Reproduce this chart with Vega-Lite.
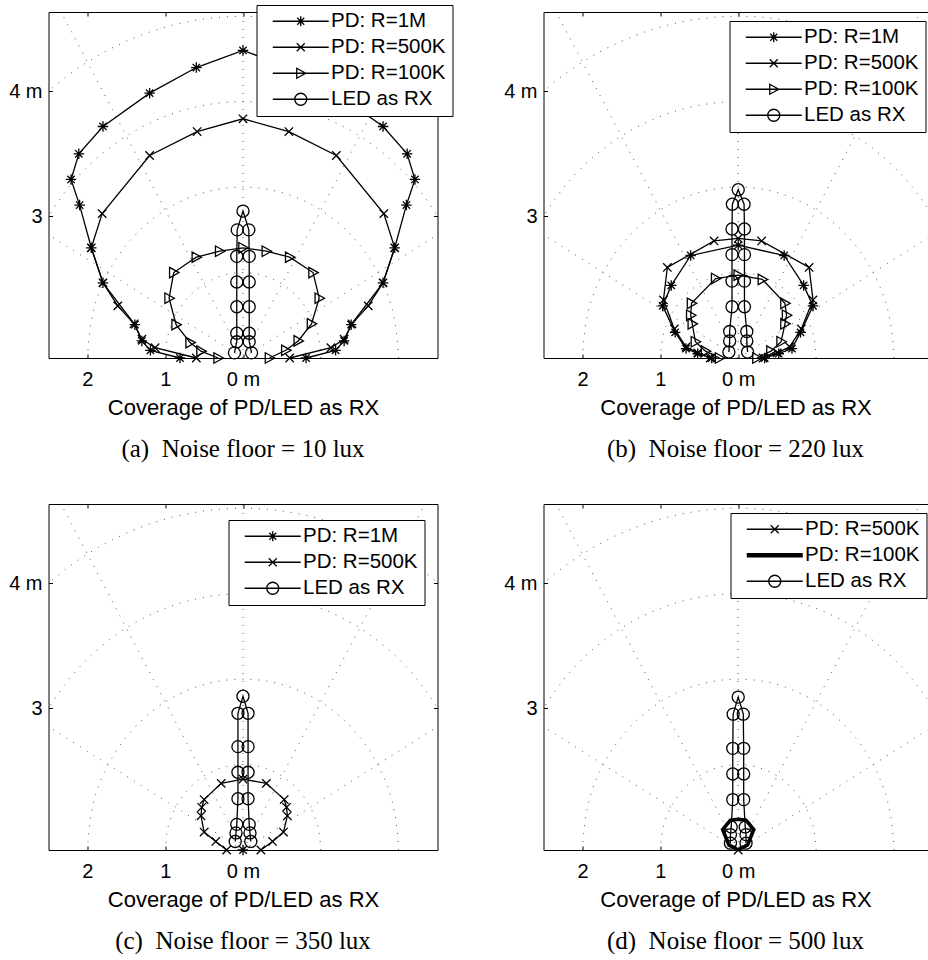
{
  "$schema": "https://vega.github.io/schema/vega-lite/v6.json",
  "padding": {"left": 8.5, "top": 4, "right": 0, "bottom": 0},
  "background": "white",
  "bounds": "flush",
  "columns": 2,
  "spacing": {"row": 146, "column": 106},
  "config": {
    "view": {"stroke": null},
    "axis": {"domainColor": "black", "domainWidth": 1, "tickColor": "black", "tickWidth": 1, "tickSize": -4, "labelColor": "black", "titleColor": "black", "grid": false, "labelFont": "Liberation Sans", "titleFont": "Liberation Sans", "labelFontSize": 20, "titleFontSize": 22, "titleFontWeight": "normal", "labelFlush": false, "labelOverlap": false},
    "legend": {"labelFont": "Liberation Sans", "labelFontSize": 20.5, "labelColor": "black", "padding": 6, "rowPadding": 5, "strokeColor": "black", "fillColor": "white", "symbolSize": 100, "symbolStrokeWidth": 1.3, "symbolStrokeColor": "black", "symbolFillColor": "transparent", "symbolOffset": 28, "labelOffset": 20, "labelLimit": 400, "cornerRadius": 0, "symbolOpacity": 1},
    "title": {"font": "Liberation Serif", "fontSize": 25, "fontWeight": "normal", "color": "black", "orient": "bottom", "anchor": "middle", "offset": 19}
  },
  "datasets": {
    "grid": [
      {"k":"c","g":1,"o":0,"x":1,"y":0},{"k":"c","g":1,"o":1,"x":0.9659,"y":0.2588},{"k":"c","g":1,"o":2,"x":0.866,"y":0.5},{"k":"c","g":1,"o":3,"x":0.7071,"y":0.7071},{"k":"c","g":1,"o":4,"x":0.5,"y":0.866},{"k":"c","g":1,"o":5,"x":0.2588,"y":0.9659},{"k":"c","g":1,"o":6,"x":0,"y":1},{"k":"c","g":1,"o":7,"x":-0.2588,"y":0.9659},{"k":"c","g":1,"o":8,"x":-0.5,"y":0.866},{"k":"c","g":1,"o":9,"x":-0.7071,"y":0.7071},{"k":"c","g":1,"o":10,"x":-0.866,"y":0.5},{"k":"c","g":1,"o":11,"x":-0.9659,"y":0.2588},{"k":"c","g":1,"o":12,"x":-1,"y":0},
      {"k":"c","g":2,"o":0,"x":2,"y":0},{"k":"c","g":2,"o":1,"x":1.9319,"y":0.5176},{"k":"c","g":2,"o":2,"x":1.7321,"y":1},{"k":"c","g":2,"o":3,"x":1.4142,"y":1.4142},{"k":"c","g":2,"o":4,"x":1,"y":1.7321},{"k":"c","g":2,"o":5,"x":0.5176,"y":1.9319},{"k":"c","g":2,"o":6,"x":0,"y":2},{"k":"c","g":2,"o":7,"x":-0.5176,"y":1.9319},{"k":"c","g":2,"o":8,"x":-1,"y":1.7321},{"k":"c","g":2,"o":9,"x":-1.4142,"y":1.4142},{"k":"c","g":2,"o":10,"x":-1.7321,"y":1},{"k":"c","g":2,"o":11,"x":-1.9319,"y":0.5176},{"k":"c","g":2,"o":12,"x":-2,"y":0},
      {"k":"c","g":3,"o":0,"x":3,"y":0},{"k":"c","g":3,"o":1,"x":2.8978,"y":0.7765},{"k":"c","g":3,"o":2,"x":2.5981,"y":1.5},{"k":"c","g":3,"o":3,"x":2.1213,"y":2.1213},{"k":"c","g":3,"o":4,"x":1.5,"y":2.5981},{"k":"c","g":3,"o":5,"x":0.7765,"y":2.8978},{"k":"c","g":3,"o":6,"x":0,"y":3},{"k":"c","g":3,"o":7,"x":-0.7765,"y":2.8978},{"k":"c","g":3,"o":8,"x":-1.5,"y":2.5981},{"k":"c","g":3,"o":9,"x":-2.1213,"y":2.1213},{"k":"c","g":3,"o":10,"x":-2.5981,"y":1.5},{"k":"c","g":3,"o":11,"x":-2.8978,"y":0.7765},{"k":"c","g":3,"o":12,"x":-3,"y":0},
      {"k":"c","g":4,"o":0,"x":4,"y":0},{"k":"c","g":4,"o":1,"x":3.8637,"y":1.0353},{"k":"c","g":4,"o":2,"x":3.4641,"y":2},{"k":"c","g":4,"o":3,"x":2.8284,"y":2.8284},{"k":"c","g":4,"o":4,"x":2,"y":3.4641},{"k":"c","g":4,"o":5,"x":1.0353,"y":3.8637},{"k":"c","g":4,"o":6,"x":0,"y":4},{"k":"c","g":4,"o":7,"x":-1.0353,"y":3.8637},{"k":"c","g":4,"o":8,"x":-2,"y":3.4641},{"k":"c","g":4,"o":9,"x":-2.8284,"y":2.8284},{"k":"c","g":4,"o":10,"x":-3.4641,"y":2},{"k":"c","g":4,"o":11,"x":-3.8637,"y":1.0353},{"k":"c","g":4,"o":12,"x":-4,"y":0},
      {"k":"s","g":30,"o":0,"x":0,"y":0},{"k":"s","g":30,"o":1,"x":4.3301,"y":2.5},
      {"k":"s","g":60,"o":0,"x":0,"y":0},{"k":"s","g":60,"o":1,"x":2.5,"y":4.3301},
      {"k":"s","g":90,"o":0,"x":0,"y":0},{"k":"s","g":90,"o":1,"x":0,"y":5},
      {"k":"s","g":120,"o":0,"x":0,"y":0},{"k":"s","g":120,"o":1,"x":-2.5,"y":4.3301},
      {"k":"s","g":150,"o":0,"x":0,"y":0},{"k":"s","g":150,"o":1,"x":-4.3301,"y":2.5}
    ],
    "curves": [
      {"p":"a","s":"PD: R=1M","o":1,"x":-0.81,"y":0},{"p":"a","s":"PD: R=1M","o":2,"x":-1.19,"y":0.09},{"p":"a","s":"PD: R=1M","o":3,"x":-1.30,"y":0.20},{"p":"a","s":"PD: R=1M","o":4,"x":-1.39,"y":0.39},{"p":"a","s":"PD: R=1M","o":5,"x":-1.80,"y":0.88},{"p":"a","s":"PD: R=1M","o":6,"x":-1.95,"y":1.29},{"p":"a","s":"PD: R=1M","o":7,"x":-2.10,"y":1.79},{"p":"a","s":"PD: R=1M","o":8,"x":-2.21,"y":2.09},{"p":"a","s":"PD: R=1M","o":9,"x":-2.11,"y":2.39},{"p":"a","s":"PD: R=1M","o":10,"x":-1.80,"y":2.71},{"p":"a","s":"PD: R=1M","o":11,"x":-1.20,"y":3.10},{"p":"a","s":"PD: R=1M","o":12,"x":-0.60,"y":3.40},{"p":"a","s":"PD: R=1M","o":13,"x":0,"y":3.60},{"p":"a","s":"PD: R=1M","o":14,"x":0.60,"y":3.40},{"p":"a","s":"PD: R=1M","o":15,"x":1.20,"y":3.10},{"p":"a","s":"PD: R=1M","o":16,"x":1.80,"y":2.71},{"p":"a","s":"PD: R=1M","o":17,"x":2.11,"y":2.39},{"p":"a","s":"PD: R=1M","o":18,"x":2.21,"y":2.09},{"p":"a","s":"PD: R=1M","o":19,"x":2.10,"y":1.79},{"p":"a","s":"PD: R=1M","o":20,"x":1.95,"y":1.29},{"p":"a","s":"PD: R=1M","o":21,"x":1.80,"y":0.88},{"p":"a","s":"PD: R=1M","o":22,"x":1.39,"y":0.39},{"p":"a","s":"PD: R=1M","o":23,"x":1.30,"y":0.20},{"p":"a","s":"PD: R=1M","o":24,"x":1.19,"y":0.09},{"p":"a","s":"PD: R=1M","o":25,"x":0.81,"y":0},
      {"p":"a","s":"PD: R=500K","o":1,"x":-0.60,"y":0},{"p":"a","s":"PD: R=500K","o":2,"x":-1.13,"y":0.12},{"p":"a","s":"PD: R=500K","o":3,"x":-1.30,"y":0.22},{"p":"a","s":"PD: R=500K","o":4,"x":-1.40,"y":0.40},{"p":"a","s":"PD: R=500K","o":5,"x":-1.61,"y":0.61},{"p":"a","s":"PD: R=500K","o":6,"x":-1.80,"y":0.88},{"p":"a","s":"PD: R=500K","o":7,"x":-1.95,"y":1.29},{"p":"a","s":"PD: R=500K","o":8,"x":-1.81,"y":1.69},{"p":"a","s":"PD: R=500K","o":9,"x":-1.20,"y":2.37},{"p":"a","s":"PD: R=500K","o":10,"x":-0.59,"y":2.65},{"p":"a","s":"PD: R=500K","o":11,"x":0,"y":2.80},{"p":"a","s":"PD: R=500K","o":12,"x":0.59,"y":2.65},{"p":"a","s":"PD: R=500K","o":13,"x":1.20,"y":2.37},{"p":"a","s":"PD: R=500K","o":14,"x":1.81,"y":1.69},{"p":"a","s":"PD: R=500K","o":15,"x":1.95,"y":1.29},{"p":"a","s":"PD: R=500K","o":16,"x":1.80,"y":0.88},{"p":"a","s":"PD: R=500K","o":17,"x":1.61,"y":0.61},{"p":"a","s":"PD: R=500K","o":18,"x":1.40,"y":0.40},{"p":"a","s":"PD: R=500K","o":19,"x":1.30,"y":0.22},{"p":"a","s":"PD: R=500K","o":20,"x":1.13,"y":0.12},{"p":"a","s":"PD: R=500K","o":21,"x":0.60,"y":0},
      {"p":"a","s":"PD: R=100K","o":1,"x":-0.32,"y":0},{"p":"a","s":"PD: R=100K","o":2,"x":-0.54,"y":0.08},{"p":"a","s":"PD: R=100K","o":3,"x":-0.68,"y":0.18},{"p":"a","s":"PD: R=100K","o":4,"x":-0.86,"y":0.39},{"p":"a","s":"PD: R=100K","o":5,"x":-0.95,"y":0.70},{"p":"a","s":"PD: R=100K","o":6,"x":-0.89,"y":1.00},{"p":"a","s":"PD: R=100K","o":7,"x":-0.60,"y":1.18},{"p":"a","s":"PD: R=100K","o":8,"x":-0.30,"y":1.25},{"p":"a","s":"PD: R=100K","o":9,"x":0,"y":1.29},{"p":"a","s":"PD: R=100K","o":10,"x":0.30,"y":1.25},{"p":"a","s":"PD: R=100K","o":11,"x":0.60,"y":1.18},{"p":"a","s":"PD: R=100K","o":12,"x":0.90,"y":1.00},{"p":"a","s":"PD: R=100K","o":13,"x":0.98,"y":0.70},{"p":"a","s":"PD: R=100K","o":14,"x":0.88,"y":0.40},{"p":"a","s":"PD: R=100K","o":15,"x":0.71,"y":0.20},{"p":"a","s":"PD: R=100K","o":16,"x":0.55,"y":0.09},{"p":"a","s":"PD: R=100K","o":17,"x":0.34,"y":0},
      {"p":"a","s":"LED as RX","o":1,"x":-0.11,"y":0.06},{"p":"a","s":"LED as RX","o":2,"x":-0.08,"y":0.19},{"p":"a","s":"LED as RX","o":3,"x":-0.08,"y":0.29},{"p":"a","s":"LED as RX","o":4,"x":-0.08,"y":0.60},{"p":"a","s":"LED as RX","o":5,"x":-0.08,"y":0.89},{"p":"a","s":"LED as RX","o":6,"x":-0.08,"y":1.19},{"p":"a","s":"LED as RX","o":7,"x":-0.075,"y":1.50},{"p":"a","s":"LED as RX","o":8,"x":0,"y":1.72},{"p":"a","s":"LED as RX","o":9,"x":0.075,"y":1.50},{"p":"a","s":"LED as RX","o":10,"x":0.08,"y":1.19},{"p":"a","s":"LED as RX","o":11,"x":0.08,"y":0.89},{"p":"a","s":"LED as RX","o":12,"x":0.08,"y":0.60},{"p":"a","s":"LED as RX","o":13,"x":0.08,"y":0.29},{"p":"a","s":"LED as RX","o":14,"x":0.08,"y":0.19},{"p":"a","s":"LED as RX","o":15,"x":0.11,"y":0.06},

      {"p":"b","s":"PD: R=1M","o":1,"x":-0.34,"y":0},{"p":"b","s":"PD: R=1M","o":2,"x":-0.52,"y":0.05},{"p":"b","s":"PD: R=1M","o":3,"x":-0.67,"y":0.11},{"p":"b","s":"PD: R=1M","o":4,"x":-0.81,"y":0.30},{"p":"b","s":"PD: R=1M","o":5,"x":-0.97,"y":0.61},{"p":"b","s":"PD: R=1M","o":6,"x":-0.86,"y":0.85},{"p":"b","s":"PD: R=1M","o":7,"x":-0.61,"y":1.20},{"p":"b","s":"PD: R=1M","o":8,"x":0,"y":1.32},{"p":"b","s":"PD: R=1M","o":9,"x":0.59,"y":1.20},{"p":"b","s":"PD: R=1M","o":10,"x":0.84,"y":0.85},{"p":"b","s":"PD: R=1M","o":11,"x":0.96,"y":0.61},{"p":"b","s":"PD: R=1M","o":12,"x":0.80,"y":0.30},{"p":"b","s":"PD: R=1M","o":13,"x":0.69,"y":0.11},{"p":"b","s":"PD: R=1M","o":14,"x":0.52,"y":0.05},{"p":"b","s":"PD: R=1M","o":15,"x":0.34,"y":0},
      {"p":"b","s":"PD: R=500K","o":1,"x":-0.36,"y":0},{"p":"b","s":"PD: R=500K","o":2,"x":-0.52,"y":0.06},{"p":"b","s":"PD: R=500K","o":3,"x":-0.67,"y":0.13},{"p":"b","s":"PD: R=500K","o":4,"x":-0.82,"y":0.34},{"p":"b","s":"PD: R=500K","o":5,"x":-0.96,"y":0.68},{"p":"b","s":"PD: R=500K","o":6,"x":-0.91,"y":1.06},{"p":"b","s":"PD: R=500K","o":7,"x":-0.31,"y":1.37},{"p":"b","s":"PD: R=500K","o":8,"x":0,"y":1.40},{"p":"b","s":"PD: R=500K","o":9,"x":0.30,"y":1.37},{"p":"b","s":"PD: R=500K","o":10,"x":0.91,"y":1.06},{"p":"b","s":"PD: R=500K","o":11,"x":0.96,"y":0.68},{"p":"b","s":"PD: R=500K","o":12,"x":0.81,"y":0.34},{"p":"b","s":"PD: R=500K","o":13,"x":0.66,"y":0.13},{"p":"b","s":"PD: R=500K","o":14,"x":0.50,"y":0.06},{"p":"b","s":"PD: R=500K","o":15,"x":0.32,"y":0},
      {"p":"b","s":"PD: R=100K","o":1,"x":-0.24,"y":0},{"p":"b","s":"PD: R=100K","o":2,"x":-0.42,"y":0.08},{"p":"b","s":"PD: R=100K","o":3,"x":-0.55,"y":0.19},{"p":"b","s":"PD: R=100K","o":4,"x":-0.59,"y":0.40},{"p":"b","s":"PD: R=100K","o":5,"x":-0.61,"y":0.50},{"p":"b","s":"PD: R=100K","o":6,"x":-0.60,"y":0.64},{"p":"b","s":"PD: R=100K","o":7,"x":-0.29,"y":0.93},{"p":"b","s":"PD: R=100K","o":8,"x":0,"y":0.97},{"p":"b","s":"PD: R=100K","o":9,"x":0.31,"y":0.92},{"p":"b","s":"PD: R=100K","o":10,"x":0.60,"y":0.64},{"p":"b","s":"PD: R=100K","o":11,"x":0.62,"y":0.50},{"p":"b","s":"PD: R=100K","o":12,"x":0.60,"y":0.40},{"p":"b","s":"PD: R=100K","o":13,"x":0.55,"y":0.19},{"p":"b","s":"PD: R=100K","o":14,"x":0.42,"y":0.08},{"p":"b","s":"PD: R=100K","o":15,"x":0.24,"y":0},
      {"p":"b","s":"LED as RX","o":1,"x":-0.12,"y":0.07},{"p":"b","s":"LED as RX","o":2,"x":-0.11,"y":0.20},{"p":"b","s":"LED as RX","o":3,"x":-0.11,"y":0.31},{"p":"b","s":"LED as RX","o":4,"x":-0.08,"y":0.60},{"p":"b","s":"LED as RX","o":5,"x":-0.08,"y":0.90},{"p":"b","s":"LED as RX","o":6,"x":-0.08,"y":1.21},{"p":"b","s":"LED as RX","o":7,"x":-0.08,"y":1.51},{"p":"b","s":"LED as RX","o":8,"x":-0.075,"y":1.80},{"p":"b","s":"LED as RX","o":9,"x":0,"y":1.97},{"p":"b","s":"LED as RX","o":10,"x":0.075,"y":1.80},{"p":"b","s":"LED as RX","o":11,"x":0.08,"y":1.51},{"p":"b","s":"LED as RX","o":12,"x":0.08,"y":1.21},{"p":"b","s":"LED as RX","o":13,"x":0.08,"y":0.90},{"p":"b","s":"LED as RX","o":14,"x":0.08,"y":0.60},{"p":"b","s":"LED as RX","o":15,"x":0.11,"y":0.31},{"p":"b","s":"LED as RX","o":16,"x":0.11,"y":0.20},{"p":"b","s":"LED as RX","o":17,"x":0.12,"y":0.07},

      {"p":"c","s":"PD: R=1M","o":1,"x":0,"y":0},
      {"p":"c","s":"PD: R=500K","o":1,"x":-0.21,"y":0},{"p":"c","s":"PD: R=500K","o":2,"x":-0.35,"y":0.10},{"p":"c","s":"PD: R=500K","o":3,"x":-0.50,"y":0.21},{"p":"c","s":"PD: R=500K","o":4,"x":-0.54,"y":0.40},{"p":"c","s":"PD: R=500K","o":5,"x":-0.53,"y":0.50},{"p":"c","s":"PD: R=500K","o":6,"x":-0.50,"y":0.59},{"p":"c","s":"PD: R=500K","o":7,"x":-0.28,"y":0.78},{"p":"c","s":"PD: R=500K","o":8,"x":0,"y":0.83},{"p":"c","s":"PD: R=500K","o":9,"x":0.30,"y":0.78},{"p":"c","s":"PD: R=500K","o":10,"x":0.53,"y":0.59},{"p":"c","s":"PD: R=500K","o":11,"x":0.56,"y":0.50},{"p":"c","s":"PD: R=500K","o":12,"x":0.57,"y":0.40},{"p":"c","s":"PD: R=500K","o":13,"x":0.52,"y":0.21},{"p":"c","s":"PD: R=500K","o":14,"x":0.38,"y":0.10},{"p":"c","s":"PD: R=500K","o":15,"x":0.23,"y":0},
      {"p":"c","s":"LED as RX","o":1,"x":-0.10,"y":0.10},{"p":"c","s":"LED as RX","o":2,"x":-0.09,"y":0.20},{"p":"c","s":"LED as RX","o":3,"x":-0.08,"y":0.30},{"p":"c","s":"LED as RX","o":4,"x":-0.065,"y":0.60},{"p":"c","s":"LED as RX","o":5,"x":-0.065,"y":0.91},{"p":"c","s":"LED as RX","o":6,"x":-0.065,"y":1.21},{"p":"c","s":"LED as RX","o":7,"x":-0.065,"y":1.60},{"p":"c","s":"LED as RX","o":8,"x":0,"y":1.80},{"p":"c","s":"LED as RX","o":9,"x":0.065,"y":1.60},{"p":"c","s":"LED as RX","o":10,"x":0.065,"y":1.21},{"p":"c","s":"LED as RX","o":11,"x":0.065,"y":0.91},{"p":"c","s":"LED as RX","o":12,"x":0.065,"y":0.60},{"p":"c","s":"LED as RX","o":13,"x":0.08,"y":0.30},{"p":"c","s":"LED as RX","o":14,"x":0.09,"y":0.20},{"p":"c","s":"LED as RX","o":15,"x":0.10,"y":0.10},

      {"p":"d","s":"PD: R=500K","o":1,"x":0,"y":0},
      {"p":"d","s":"PD: R=100K","o":1,"x":0,"y":0},{"p":"d","s":"PD: R=100K","o":2,"x":-0.12,"y":0.06},{"p":"d","s":"PD: R=100K","o":3,"x":-0.20,"y":0.24},{"p":"d","s":"PD: R=100K","o":4,"x":-0.10,"y":0.35},{"p":"d","s":"PD: R=100K","o":5,"x":0,"y":0.36},{"p":"d","s":"PD: R=100K","o":6,"x":0.10,"y":0.35},{"p":"d","s":"PD: R=100K","o":7,"x":0.20,"y":0.24},{"p":"d","s":"PD: R=100K","o":8,"x":0.12,"y":0.06},{"p":"d","s":"PD: R=100K","o":9,"x":0,"y":0},
      {"p":"d","s":"LED as RX","o":1,"x":-0.10,"y":0.08},{"p":"d","s":"LED as RX","o":2,"x":-0.10,"y":0.18},{"p":"d","s":"LED as RX","o":3,"x":-0.09,"y":0.27},{"p":"d","s":"LED as RX","o":4,"x":-0.07,"y":0.59},{"p":"d","s":"LED as RX","o":5,"x":-0.07,"y":0.89},{"p":"d","s":"LED as RX","o":6,"x":-0.07,"y":1.19},{"p":"d","s":"LED as RX","o":7,"x":-0.065,"y":1.59},{"p":"d","s":"LED as RX","o":8,"x":0,"y":1.79},{"p":"d","s":"LED as RX","o":9,"x":0.065,"y":1.59},{"p":"d","s":"LED as RX","o":10,"x":0.07,"y":1.19},{"p":"d","s":"LED as RX","o":11,"x":0.07,"y":0.89},{"p":"d","s":"LED as RX","o":12,"x":0.07,"y":0.59},{"p":"d","s":"LED as RX","o":13,"x":0.09,"y":0.27},{"p":"d","s":"LED as RX","o":14,"x":0.10,"y":0.18},{"p":"d","s":"LED as RX","o":15,"x":0.10,"y":0.08}
    ]
  },
  "concat": [
    {
      "width": 389, "height": 346,
      "title": {"text": "(a)\u00a0 Noise floor = 10 lux"},
      "layer": [
        {"data": {"name": "grid"}, "transform": [{"filter": "datum.k == 'c'"}],
         "mark": {"type": "line", "interpolate": "natural", "clip": true, "color": "#555", "strokeWidth": 1, "strokeDash": [1, 7]},
         "encoding": {
           "x": {"field": "x", "type": "quantitative", "scale": {"domain": [-2.5, 2.5], "nice": false, "zero": false}, "axis": {"orient": "bottom", "values": [-2, -1, 0], "labelExpr": "datum.value == 0 ? '0 m' : '' + abs(datum.value)", "labelPadding": 15, "title": "Coverage of PD/LED as RX", "titlePadding": 8}},
           "y": {"field": "y", "type": "quantitative", "scale": {"domain": [0, 4.05], "nice": false, "zero": false}, "axis": {"orient": "left", "values": [1.658, 3.122], "labelExpr": "datum.value > 3 ? '4 m' : '3'", "labelPadding": 10.5, "title": null}},
           "detail": {"field": "g", "type": "nominal"},
           "order": {"field": "o", "type": "quantitative"}}},
        {"data": {"name": "grid"}, "transform": [{"filter": "datum.k == 's'"}],
         "mark": {"type": "line", "clip": true, "color": "#555", "strokeWidth": 1, "strokeDash": [1, 7]},
         "encoding": {
           "x": {"field": "x", "type": "quantitative", "scale": {"domain": [-2.5, 2.5], "nice": false, "zero": false}, "axis": {"orient": "top", "values": [-2, -1, 0], "labels": false, "title": null}},
           "y": {"field": "y", "type": "quantitative", "scale": {"domain": [0, 4.05], "nice": false, "zero": false}, "axis": {"orient": "right", "values": [1.658, 3.122], "labels": false, "title": null}},
           "detail": {"field": "g", "type": "nominal"},
           "order": {"field": "o", "type": "quantitative"}}},
        {"data": {"name": "curves"}, "transform": [{"filter": "datum.p == 'a'"}],
         "mark": {"type": "line", "color": "black", "strokeWidth": 1.3},
         "encoding": {
           "x": {"field": "x", "type": "quantitative", "scale": {"domain": [-2.5, 2.5], "nice": false, "zero": false}, "axis": null},
           "y": {"field": "y", "type": "quantitative", "scale": {"domain": [0, 4.05], "nice": false, "zero": false}, "axis": null},
           "detail": {"field": "s", "type": "nominal"},
           "order": {"field": "o", "type": "quantitative"}}},
        {"data": {"name": "curves"}, "transform": [{"filter": "datum.p == 'a'"}],
         "mark": {"type": "point", "filled": false, "color": "black", "opacity": 1, "strokeWidth": 1.3, "size": 110},
         "encoding": {
           "x": {"field": "x", "type": "quantitative", "scale": {"domain": [-2.5, 2.5], "nice": false, "zero": false}, "axis": null},
           "y": {"field": "y", "type": "quantitative", "scale": {"domain": [0, 4.05], "nice": false, "zero": false}, "axis": null},
           "shape": {"field": "s", "type": "nominal", "scale": {"domain": ["PD: R=1M", "PD: R=500K", "PD: R=100K", "LED as RX"], "range": ["M-1,0H1M0,-1V1M-0.7,-0.7L0.7,0.7M-0.7,0.7L0.7,-0.7", "M-0.8,-0.8L0.8,0.8M-0.8,0.8L0.8,-0.8", "M-0.8,-1L1,0L-0.8,1Z", "M1.15,0A1.15,1.15,0,1,1,-1.15,0A1.15,1.15,0,1,1,1.15,0"]}, "legend": null}}},
        {"data": {"name": "curves"}, "transform": [{"filter": "false"}],
         "mark": {"type": "point", "filled": false, "color": "black", "opacity": 1, "strokeWidth": 1.3},
         "encoding": {
           "x": {"field": "x", "type": "quantitative", "scale": {"domain": [-2.5, 2.5], "nice": false, "zero": false}, "axis": null},
           "y": {"field": "y", "type": "quantitative", "scale": {"domain": [0, 4.05], "nice": false, "zero": false}, "axis": null},
           "shape": {"field": "s", "type": "nominal", "scale": {"domain": ["PD: R=1M", "PD: R=500K", "PD: R=100K", "LED as RX"], "range": ["M-5.6,0H5.6M-1,0H1M0,-1V1M-0.7,-0.7L0.7,0.7M-0.7,0.7L0.7,-0.7", "M-5.6,0H5.6M-0.8,-0.8L0.8,0.8M-0.8,0.8L0.8,-0.8", "M-5.6,0H5.6M-0.8,-1L1,0L-0.8,1Z", "M-5.6,0H5.6M1.2,0A1.2,1.2,0,1,1,-1.2,0A1.2,1.2,0,1,1,1.2,0"]}, "legend": {"orient": "none", "legendX": 208, "legendY": -7, "title": null, "zindex": 1}}}}
      ],
      "resolve": {"axis": {"x": "independent", "y": "independent"}, "scale": {"shape": "independent"}, "legend": {"shape": "independent"}}
    },
    {
      "width": 384, "height": 346,
      "title": {"text": "(b)\u00a0 Noise floor = 220 lux"},
      "layer": [
        {"data": {"name": "grid"}, "transform": [{"filter": "datum.k == 'c'"}],
         "mark": {"type": "line", "interpolate": "natural", "clip": true, "color": "#555", "strokeWidth": 1, "strokeDash": [1, 7]},
         "encoding": {
           "x": {"field": "x", "type": "quantitative", "scale": {"domain": [-2.5, 2.43], "nice": false, "zero": false}, "axis": {"orient": "bottom", "values": [-2, -1, 0], "labelExpr": "datum.value == 0 ? '0 m' : '' + abs(datum.value)", "labelPadding": 15, "title": "Coverage of PD/LED as RX", "titlePadding": 8}},
           "y": {"field": "y", "type": "quantitative", "scale": {"domain": [0, 4.05], "nice": false, "zero": false}, "axis": {"orient": "left", "values": [1.658, 3.122], "labelExpr": "datum.value > 3 ? '4 m' : '3'", "labelPadding": 10.5, "title": null}},
           "detail": {"field": "g", "type": "nominal"},
           "order": {"field": "o", "type": "quantitative"}}},
        {"data": {"name": "grid"}, "transform": [{"filter": "datum.k == 's'"}],
         "mark": {"type": "line", "clip": true, "color": "#555", "strokeWidth": 1, "strokeDash": [1, 7]},
         "encoding": {
           "x": {"field": "x", "type": "quantitative", "scale": {"domain": [-2.5, 2.43], "nice": false, "zero": false}, "axis": {"orient": "top", "values": [-2, -1, 0], "labels": false, "title": null}},
           "y": {"field": "y", "type": "quantitative", "scale": {"domain": [0, 4.05], "nice": false, "zero": false}, "axis": null},
           "detail": {"field": "g", "type": "nominal"},
           "order": {"field": "o", "type": "quantitative"}}},
        {"data": {"name": "curves"}, "transform": [{"filter": "datum.p == 'b'"}],
         "mark": {"type": "line", "color": "black", "strokeWidth": 1.3},
         "encoding": {
           "x": {"field": "x", "type": "quantitative", "scale": {"domain": [-2.5, 2.43], "nice": false, "zero": false}, "axis": null},
           "y": {"field": "y", "type": "quantitative", "scale": {"domain": [0, 4.05], "nice": false, "zero": false}, "axis": null},
           "detail": {"field": "s", "type": "nominal"},
           "order": {"field": "o", "type": "quantitative"}}},
        {"data": {"name": "curves"}, "transform": [{"filter": "datum.p == 'b'"}],
         "mark": {"type": "point", "filled": false, "color": "black", "opacity": 1, "strokeWidth": 1.3, "size": 110},
         "encoding": {
           "x": {"field": "x", "type": "quantitative", "scale": {"domain": [-2.5, 2.43], "nice": false, "zero": false}, "axis": null},
           "y": {"field": "y", "type": "quantitative", "scale": {"domain": [0, 4.05], "nice": false, "zero": false}, "axis": null},
           "shape": {"field": "s", "type": "nominal", "scale": {"domain": ["PD: R=1M", "PD: R=500K", "PD: R=100K", "LED as RX"], "range": ["M-1,0H1M0,-1V1M-0.7,-0.7L0.7,0.7M-0.7,0.7L0.7,-0.7", "M-0.8,-0.8L0.8,0.8M-0.8,0.8L0.8,-0.8", "M-0.8,-1L1,0L-0.8,1Z", "M1.15,0A1.15,1.15,0,1,1,-1.15,0A1.15,1.15,0,1,1,1.15,0"]}, "legend": null}}},
        {"data": {"name": "curves"}, "transform": [{"filter": "false"}],
         "mark": {"type": "point", "filled": false, "color": "black", "opacity": 1, "strokeWidth": 1.3},
         "encoding": {
           "x": {"field": "x", "type": "quantitative", "scale": {"domain": [-2.5, 2.43], "nice": false, "zero": false}, "axis": null},
           "y": {"field": "y", "type": "quantitative", "scale": {"domain": [0, 4.05], "nice": false, "zero": false}, "axis": null},
           "shape": {"field": "s", "type": "nominal", "scale": {"domain": ["PD: R=1M", "PD: R=500K", "PD: R=100K", "LED as RX"], "range": ["M-5.6,0H5.6M-1,0H1M0,-1V1M-0.7,-0.7L0.7,0.7M-0.7,0.7L0.7,-0.7", "M-5.6,0H5.6M-0.8,-0.8L0.8,0.8M-0.8,0.8L0.8,-0.8", "M-5.6,0H5.6M-0.8,-1L1,0L-0.8,1Z", "M-5.6,0H5.6M1.2,0A1.2,1.2,0,1,1,-1.2,0A1.2,1.2,0,1,1,1.2,0"]}, "legend": {"orient": "none", "legendX": 186, "legendY": 9, "title": null, "zindex": 1}}}}
      ],
      "resolve": {"axis": {"x": "independent", "y": "independent"}, "scale": {"shape": "independent"}, "legend": {"shape": "independent"}}
    },
    {
      "width": 389, "height": 346,
      "title": {"text": "(c)\u00a0 Noise floor = 350 lux"},
      "layer": [
        {"data": {"name": "grid"}, "transform": [{"filter": "datum.k == 'c'"}],
         "mark": {"type": "line", "interpolate": "natural", "clip": true, "color": "#555", "strokeWidth": 1, "strokeDash": [1, 7]},
         "encoding": {
           "x": {"field": "x", "type": "quantitative", "scale": {"domain": [-2.5, 2.5], "nice": false, "zero": false}, "axis": {"orient": "bottom", "values": [-2, -1, 0], "labelExpr": "datum.value == 0 ? '0 m' : '' + abs(datum.value)", "labelPadding": 15, "title": "Coverage of PD/LED as RX", "titlePadding": 8}},
           "y": {"field": "y", "type": "quantitative", "scale": {"domain": [0, 4.05], "nice": false, "zero": false}, "axis": {"orient": "left", "values": [1.658, 3.122], "labelExpr": "datum.value > 3 ? '4 m' : '3'", "labelPadding": 10.5, "title": null}},
           "detail": {"field": "g", "type": "nominal"},
           "order": {"field": "o", "type": "quantitative"}}},
        {"data": {"name": "grid"}, "transform": [{"filter": "datum.k == 's'"}],
         "mark": {"type": "line", "clip": true, "color": "#555", "strokeWidth": 1, "strokeDash": [1, 7]},
         "encoding": {
           "x": {"field": "x", "type": "quantitative", "scale": {"domain": [-2.5, 2.5], "nice": false, "zero": false}, "axis": {"orient": "top", "values": [-2, -1, 0], "labels": false, "title": null}},
           "y": {"field": "y", "type": "quantitative", "scale": {"domain": [0, 4.05], "nice": false, "zero": false}, "axis": {"orient": "right", "values": [1.658, 3.122], "labels": false, "title": null}},
           "detail": {"field": "g", "type": "nominal"},
           "order": {"field": "o", "type": "quantitative"}}},
        {"data": {"name": "curves"}, "transform": [{"filter": "datum.p == 'c'"}],
         "mark": {"type": "line", "color": "black", "strokeWidth": 1.3},
         "encoding": {
           "x": {"field": "x", "type": "quantitative", "scale": {"domain": [-2.5, 2.5], "nice": false, "zero": false}, "axis": null},
           "y": {"field": "y", "type": "quantitative", "scale": {"domain": [0, 4.05], "nice": false, "zero": false}, "axis": null},
           "detail": {"field": "s", "type": "nominal"},
           "order": {"field": "o", "type": "quantitative"}}},
        {"data": {"name": "curves"}, "transform": [{"filter": "datum.p == 'c'"}],
         "mark": {"type": "point", "filled": false, "color": "black", "opacity": 1, "strokeWidth": 1.3, "size": 110},
         "encoding": {
           "x": {"field": "x", "type": "quantitative", "scale": {"domain": [-2.5, 2.5], "nice": false, "zero": false}, "axis": null},
           "y": {"field": "y", "type": "quantitative", "scale": {"domain": [0, 4.05], "nice": false, "zero": false}, "axis": null},
           "shape": {"field": "s", "type": "nominal", "scale": {"domain": ["PD: R=1M", "PD: R=500K", "PD: R=100K", "LED as RX"], "range": ["M-1,0H1M0,-1V1M-0.7,-0.7L0.7,0.7M-0.7,0.7L0.7,-0.7", "M-0.8,-0.8L0.8,0.8M-0.8,0.8L0.8,-0.8", "M-0.8,-1L1,0L-0.8,1Z", "M1.15,0A1.15,1.15,0,1,1,-1.15,0A1.15,1.15,0,1,1,1.15,0"]}, "legend": null}}},
        {"data": {"name": "curves"}, "transform": [{"filter": "false"}],
         "mark": {"type": "point", "filled": false, "color": "black", "opacity": 1, "strokeWidth": 1.3},
         "encoding": {
           "x": {"field": "x", "type": "quantitative", "scale": {"domain": [-2.5, 2.5], "nice": false, "zero": false}, "axis": null},
           "y": {"field": "y", "type": "quantitative", "scale": {"domain": [0, 4.05], "nice": false, "zero": false}, "axis": null},
           "shape": {"field": "s", "type": "nominal", "scale": {"domain": ["PD: R=1M", "PD: R=500K", "LED as RX"], "range": ["M-5.6,0H5.6M-1,0H1M0,-1V1M-0.7,-0.7L0.7,0.7M-0.7,0.7L0.7,-0.7", "M-5.6,0H5.6M-0.8,-0.8L0.8,0.8M-0.8,0.8L0.8,-0.8", "M-5.6,0H5.6M1.2,0A1.2,1.2,0,1,1,-1.2,0A1.2,1.2,0,1,1,1.2,0"]}, "legend": {"orient": "none", "legendX": 180, "legendY": 16, "title": null, "zindex": 1}}}}
      ],
      "resolve": {"axis": {"x": "independent", "y": "independent"}, "scale": {"shape": "independent"}, "legend": {"shape": "independent"}}
    },
    {
      "width": 384, "height": 346,
      "title": {"text": "(d)\u00a0 Noise floor = 500 lux"},
      "layer": [
        {"data": {"name": "grid"}, "transform": [{"filter": "datum.k == 'c'"}],
         "mark": {"type": "line", "interpolate": "natural", "clip": true, "color": "#555", "strokeWidth": 1, "strokeDash": [1, 7]},
         "encoding": {
           "x": {"field": "x", "type": "quantitative", "scale": {"domain": [-2.5, 2.43], "nice": false, "zero": false}, "axis": {"orient": "bottom", "values": [-2, -1, 0], "labelExpr": "datum.value == 0 ? '0 m' : '' + abs(datum.value)", "labelPadding": 15, "title": "Coverage of PD/LED as RX", "titlePadding": 8}},
           "y": {"field": "y", "type": "quantitative", "scale": {"domain": [0, 4.05], "nice": false, "zero": false}, "axis": {"orient": "left", "values": [1.658, 3.122], "labelExpr": "datum.value > 3 ? '4 m' : '3'", "labelPadding": 10.5, "title": null}},
           "detail": {"field": "g", "type": "nominal"},
           "order": {"field": "o", "type": "quantitative"}}},
        {"data": {"name": "grid"}, "transform": [{"filter": "datum.k == 's'"}],
         "mark": {"type": "line", "clip": true, "color": "#555", "strokeWidth": 1, "strokeDash": [1, 7]},
         "encoding": {
           "x": {"field": "x", "type": "quantitative", "scale": {"domain": [-2.5, 2.43], "nice": false, "zero": false}, "axis": {"orient": "top", "values": [-2, -1, 0], "labels": false, "title": null}},
           "y": {"field": "y", "type": "quantitative", "scale": {"domain": [0, 4.05], "nice": false, "zero": false}, "axis": null},
           "detail": {"field": "g", "type": "nominal"},
           "order": {"field": "o", "type": "quantitative"}}},
        {"data": {"name": "curves"}, "transform": [{"filter": "datum.p == 'd' && datum.s != 'PD: R=100K'"}],
         "mark": {"type": "line", "color": "black", "strokeWidth": 1.3},
         "encoding": {
           "x": {"field": "x", "type": "quantitative", "scale": {"domain": [-2.5, 2.43], "nice": false, "zero": false}, "axis": null},
           "y": {"field": "y", "type": "quantitative", "scale": {"domain": [0, 4.05], "nice": false, "zero": false}, "axis": null},
           "detail": {"field": "s", "type": "nominal"},
           "order": {"field": "o", "type": "quantitative"}}},
        {"data": {"name": "curves"}, "transform": [{"filter": "datum.p == 'd' && datum.s == 'PD: R=100K'"}],
         "mark": {"type": "line", "color": "black", "strokeWidth": 3.6},
         "encoding": {
           "x": {"field": "x", "type": "quantitative", "scale": {"domain": [-2.5, 2.43], "nice": false, "zero": false}, "axis": null},
           "y": {"field": "y", "type": "quantitative", "scale": {"domain": [0, 4.05], "nice": false, "zero": false}, "axis": null},
           "order": {"field": "o", "type": "quantitative"}}},
        {"data": {"name": "curves"}, "transform": [{"filter": "datum.p == 'd' && datum.s != 'PD: R=100K'"}],
         "mark": {"type": "point", "filled": false, "color": "black", "opacity": 1, "strokeWidth": 1.3, "size": 110},
         "encoding": {
           "x": {"field": "x", "type": "quantitative", "scale": {"domain": [-2.5, 2.43], "nice": false, "zero": false}, "axis": null},
           "y": {"field": "y", "type": "quantitative", "scale": {"domain": [0, 4.05], "nice": false, "zero": false}, "axis": null},
           "shape": {"field": "s", "type": "nominal", "scale": {"domain": ["PD: R=1M", "PD: R=500K", "PD: R=100K", "LED as RX"], "range": ["M-1,0H1M0,-1V1M-0.7,-0.7L0.7,0.7M-0.7,0.7L0.7,-0.7", "M-0.8,-0.8L0.8,0.8M-0.8,0.8L0.8,-0.8", "M-0.8,-1L1,0L-0.8,1Z", "M1.15,0A1.15,1.15,0,1,1,-1.15,0A1.15,1.15,0,1,1,1.15,0"]}, "legend": null}}},
        {"data": {"name": "curves"}, "transform": [{"filter": "false"}],
         "mark": {"type": "point", "filled": false, "color": "black", "opacity": 1, "strokeWidth": 1.3},
         "encoding": {
           "x": {"field": "x", "type": "quantitative", "scale": {"domain": [-2.5, 2.43], "nice": false, "zero": false}, "axis": null},
           "y": {"field": "y", "type": "quantitative", "scale": {"domain": [0, 4.05], "nice": false, "zero": false}, "axis": null},
           "shape": {"field": "s", "type": "nominal", "scale": {"domain": ["PD: R=500K", "PD: R=100K", "LED as RX"], "range": ["M-5.6,0H5.6M-0.8,-0.8L0.8,0.8M-0.8,0.8L0.8,-0.8", "M-5.6,-0.3H5.6M-5.6,0H5.6M-5.6,0.3H5.6", "M-5.6,0H5.6M1.2,0A1.2,1.2,0,1,1,-1.2,0A1.2,1.2,0,1,1,1.2,0"]}, "legend": {"orient": "none", "legendX": 187, "legendY": 9, "title": null, "zindex": 1}}}}
      ],
      "resolve": {"axis": {"x": "independent", "y": "independent"}, "scale": {"shape": "independent"}, "legend": {"shape": "independent"}}
    }
  ],
  "resolve": {"scale": {"shape": "independent"}, "legend": {"shape": "independent"}}
}
